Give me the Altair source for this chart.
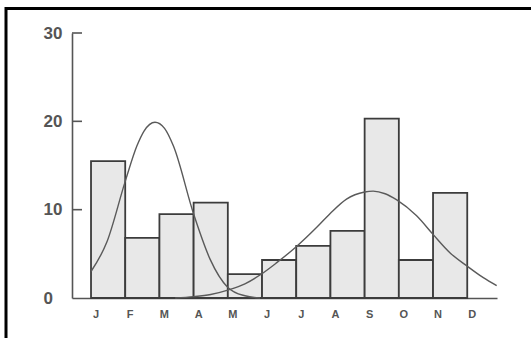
import json
import altair as alt
import pandas as pd

# Month letters sit on the bar boundaries; bars span one boundary to the next
months = ["J", "F", "M", "A", "M", "J", "J", "A", "S", "O", "N", "D"]
bar_values = [15.5, 6.8, 9.5, 10.8, 2.7, 4.3, 5.9, 7.6, 20.3, 4.3, 11.9]

# Fitted curve for the early-year peak (position in months, value)
curve1_pos = [0.0, 0.46, 1.0, 1.34, 1.55, 1.87, 2.15, 2.41, 3.0, 3.48, 4.0, 4.5, 4.94]
curve1_val = [3.0, 6.3, 13.2, 17.2, 18.9, 19.9, 19.2, 17.2, 9.5, 4.4, 1.2, 0.25, 0.0]

# Fitted curve for the late-year peak
curve2_pos = [2.46, 3.0, 3.5, 4.0, 4.5, 4.94, 5.43, 6.0, 6.6, 7.0, 7.47, 8.0, 8.25,
              8.6, 8.94, 9.52, 10.0, 10.5, 11.0, 11.47, 11.86]
curve2_val = [0.0, 0.15, 0.4, 0.9, 1.6, 2.6, 4.0, 5.8, 8.0, 9.6, 11.2, 12.0, 12.1,
              11.8, 11.1, 9.3, 7.2, 5.1, 3.6, 2.3, 1.4]

y_ticks = [10, 20, 30]

bars_df = pd.DataFrame({
    "start": list(range(len(bar_values))),
    "end": list(range(1, len(bar_values) + 1)),
    "value": bar_values,
})
curves_df = pd.concat([
    pd.DataFrame({"pos": curve1_pos, "val": curve1_val, "curve": "early"}),
    pd.DataFrame({"pos": curve2_pos, "val": curve2_val, "curve": "late"}),
])
ticks_df = pd.DataFrame({"tick": y_ticks})

AXIS_GREY = "#555555"
x_scale = alt.Scale(domain=[-0.556, 11.87], nice=False, zero=False)
y_scale = alt.Scale(domain=[0, 30], nice=False)

x_axis = alt.Axis(
    values=list(range(len(months))),
    labelExpr=f"{json.dumps(months)}[datum.value]",
    labelOffset=4.5,
    labelPadding=10,
    labelFlush=False,
    labelOverlap=False,
    tickSize=0,
    grid=False,
    domainColor=AXIS_GREY,
    domainWidth=1.6,
    labelFont="Liberation Sans",
    labelFontWeight="bold",
    labelFontSize=11,
    labelColor=AXIS_GREY,
    title=None,
)
y_axis = alt.Axis(
    values=[0, 10, 20, 30],
    labelAlign="left",
    labelBaseline="middle",
    labelPadding=29,
    labelFlush=False,
    labelOverlap=False,
    tickSize=0,
    grid=False,
    domainColor=AXIS_GREY,
    domainWidth=1.6,
    labelFont="Liberation Sans",
    labelFontWeight="bold",
    labelFontSize=17,
    labelColor=AXIS_GREY,
    title=None,
)

# Outer black frame around the figure
frame = alt.Chart(pd.DataFrame({"k": [0]})).mark_rect(
    fillOpacity=0, stroke="black", strokeWidth=3
).encode(
    x=alt.value(-66), x2=alt.value(470), y=alt.value(-24.5), y2=alt.value(320)
)

bars = alt.Chart(bars_df).mark_rect(
    fill="#e8e8e8", stroke="#3c3c3c", strokeWidth=1.8
).encode(
    x=alt.X("start:Q", scale=x_scale, axis=x_axis),
    x2="end:Q",
    y=alt.Y("value:Q", scale=y_scale, axis=y_axis),
    y2=alt.datum(0),
)

curves = alt.Chart(curves_df).mark_line(
    color="#5a5a5a", strokeWidth=1.4, interpolate="monotone"
).encode(
    x=alt.X("pos:Q", scale=x_scale, axis=x_axis),
    y=alt.Y("val:Q", scale=y_scale, axis=y_axis),
    detail="curve:N",
)

# Inward-pointing tick marks on the value axis
ticks = alt.Chart(ticks_df).mark_rule(color=AXIS_GREY, strokeWidth=1.6).encode(
    y=alt.Y("tick:Q", scale=y_scale, axis=y_axis),
    x=alt.value(0),
    x2=alt.value(10),
)

chart = alt.layer(frame, bars, curves, ticks).properties(
    width=425,
    height=265,
    padding={"left": 72, "top": 33, "right": 34, "bottom": 40},
    autosize=alt.AutoSizeParams(type="none"),
    background="white",
).configure_view(stroke=None).configure_axis(labelOverlap=False)

chart.save("out.html", embed_options={"renderer": "svg", "actions": False})
